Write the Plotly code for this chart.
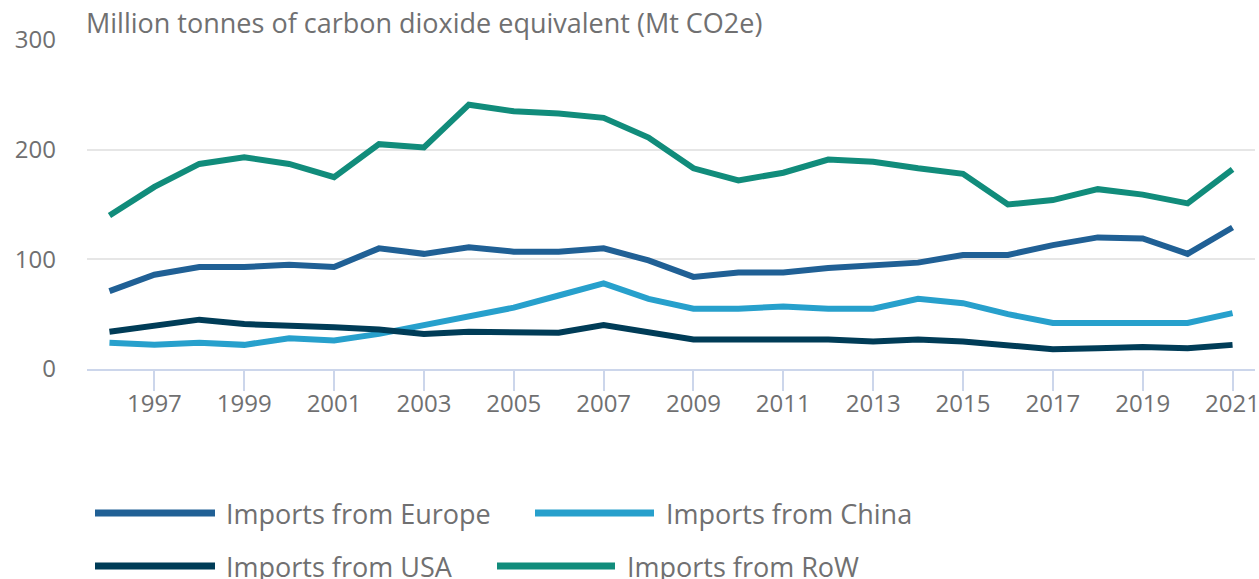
import plotly.graph_objects as go

years = list(range(1996, 2022))
europe = [71, 86, 93, 93, 95, 93, 110, 105, 111, 107, 107, 110, 99, 84, 88, 88, 92, 94, 97, 104, 104, 113, 120, 119, 105, 129]
china = [24, 22, 24, 22, 28, 26, 32, 40, 49, 56, 67, 78, 64, 55, 55, 57, 55, 55, 64, 60, 50, 42, 42, 42, 42, 51]
usa = [34, 40, 45, 41, 40, 38, 36, 32, 34, 33, 33, 40, 34, 27, 27, 27, 27, 25, 27, 25, 22, 18, 19, 20, 19, 22]
row = [140, 166, 187, 193, 187, 175, 205, 202, 241, 235, 233, 229, 211, 183, 172, 179, 191, 189, 183, 178, 150, 154, 164, 159, 151, 182]

series_names = ["Imports from Europe", "Imports from China", "Imports from USA", "Imports from RoW"]
series_values = [europe, china, usa, row]
colors = ["#206095", "#27a0cc", "#003c57", "#118c7b"]

y_ticks = [0, 100, 200, 300]
x_ticks = list(range(1997, 2022, 2))
y_title = "Million tonnes of carbon dioxide equivalent (Mt CO2e)"

TEXT = "#707071"
FONT = "Open Sans"

W, H = 1259, 579
ML, MR, MT, MB = 87, 4, 40, 210
PW = W - ML - MR
PH = H - MT - MB

fig = go.Figure()
for name, vals, col in zip(series_names, series_values, colors):
    fig.add_trace(go.Scatter(x=years, y=vals, name=name, mode="lines",
                             line=dict(color=col, width=6), showlegend=False))

# custom legend (long line symbols)
def px_to_paper_x(px):
    return (px - ML) / PW

def px_to_paper_y(py):
    return (H - MB - py) / PH

legend_items = [
    (0, 95, 215, 227, 513),
    (1, 535, 654, 667, 513),
    (2, 95, 215, 227, 566),
    (3, 497, 615, 628, 566),
]
shapes = []
annotations = []
for idx, x0, x1, tx, ty in legend_items:
    shapes.append(dict(type="line", xref="paper", yref="paper",
                       x0=px_to_paper_x(x0), x1=px_to_paper_x(x1),
                       y0=px_to_paper_y(ty), y1=px_to_paper_y(ty),
                       line=dict(color=colors[idx], width=7)))
    annotations.append(dict(text=series_names[idx], xref="paper", yref="paper",
                            x=px_to_paper_x(tx), y=px_to_paper_y(ty),
                            xanchor="left", yanchor="middle", showarrow=False, xshift=-3,
                            font=dict(family=FONT, size=27, color=TEXT)))

annotations.append(dict(text=y_title, xref="paper", yref="paper",
                        x=0, y=px_to_paper_y(40), xanchor="left", yanchor="bottom",
                        showarrow=False, xshift=-3, yshift=-3,
                        font=dict(family=FONT, size=27, color=TEXT)))

fig.update_layout(
    width=W, height=H,
    margin=dict(l=ML, r=MR, t=MT, b=MB, autoexpand=False),
    paper_bgcolor="white", plot_bgcolor="white",
    font=dict(family=FONT, size=24, color=TEXT),
    shapes=shapes, annotations=annotations,
    showlegend=False,
)
fig.update_xaxes(range=[1995.5, 2021.5], tickvals=x_ticks, ticktext=[str(v) for v in x_ticks],
                 showgrid=False, zeroline=False, showline=True, linecolor="#ccd6eb", linewidth=2,
                 ticks="outside", ticklen=20, tickwidth=2, tickcolor="#ccd6eb",
                 ticklabeloverflow="allow", ticklabelstandoff=-8,
                 tickfont=dict(family=FONT, size=24, color=TEXT))
fig.update_yaxes(range=[0, 300], tickvals=y_ticks, showgrid=True, gridcolor="#e6e6e6", gridwidth=2,
                 zeroline=False, showline=False, ticks="", ticklabelstandoff=30,
                 tickfont=dict(family=FONT, size=24, color=TEXT))

fig.write_html("out.html")
